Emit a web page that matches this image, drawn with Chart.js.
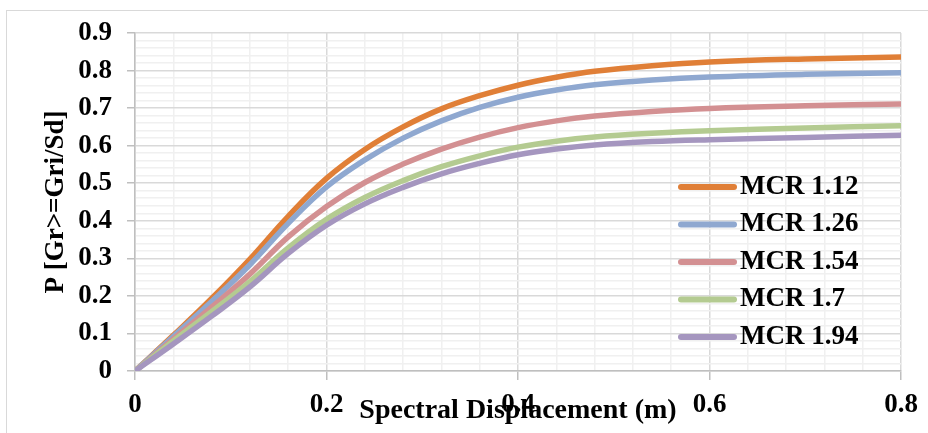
<!DOCTYPE html>
<html>
<head>
<meta charset="utf-8">
<script src="https://cdn.jsdelivr.net/npm/chart.js@4.4.0/dist/chart.umd.min.js"></script>
<style>
  body { margin: 0; background: #fff; }
  #wrap { position: relative; width: 928px; height: 433px; overflow: hidden; background: #fff; }
  #frame { position: absolute; left: 6px; top: 10px; width: 1000px; height: 500px; border: 1px solid #d9d9d9; }
  #chart { position: absolute; left: 0; top: 0; }
</style>
</head>
<body>
<div id="wrap">
  <div id="frame"></div>
  <canvas id="chart" width="928" height="433"></canvas>
</div>
<script>
// Spectral displacement (m)
const sd = [0, 0.04, 0.08, 0.12, 0.16, 0.2, 0.24, 0.28, 0.32, 0.36, 0.4, 0.44, 0.48, 0.54, 0.6, 0.7, 0.8];

// fragility curves
const mcr112 = [0, 0.095, 0.193, 0.298, 0.412, 0.513, 0.590, 0.650, 0.698, 0.733, 0.761, 0.782, 0.798, 0.813, 0.823, 0.831, 0.836];
const mcr126 = [0, 0.092, 0.185, 0.283, 0.393, 0.490, 0.562, 0.620, 0.666, 0.702, 0.729, 0.748, 0.762, 0.775, 0.783, 0.790, 0.794];
const mcr154 = [0, 0.085, 0.170, 0.258, 0.357, 0.438, 0.502, 0.551, 0.591, 0.623, 0.648, 0.666, 0.679, 0.691, 0.699, 0.706, 0.711];
const mcr170 = [0, 0.080, 0.158, 0.238, 0.328, 0.404, 0.462, 0.507, 0.544, 0.573, 0.596, 0.612, 0.623, 0.633, 0.640, 0.647, 0.653];
const mcr194 = [0, 0.072, 0.146, 0.224, 0.313, 0.388, 0.445, 0.489, 0.525, 0.553, 0.576, 0.591, 0.602, 0.611, 0.616, 0.622, 0.628];

const seriesNames = ['MCR 1.12', 'MCR 1.26', 'MCR 1.54', 'MCR 1.7', 'MCR 1.94'];
const seriesColors = ['#E07F37', '#8FA8D0', '#D39092', '#B4CB91', '#A596BF'];
const xTickLabels = ['0', '0.2', '0.4', '0.6', '0.8'];
const yTickLabels = ['0', '0.1', '0.2', '0.3', '0.4', '0.5', '0.6', '0.7', '0.8', '0.9'];

const allSeries = [mcr112, mcr126, mcr154, mcr170, mcr194];
const FONT = "'Liberation Serif', 'Times New Roman', serif";

function majorIndex(v, step) {
  const k = v / step;
  return Math.abs(k - Math.round(k)) < 1e-6 ? Math.round(k) : -1;
}

// legend drawn inside the plot area, like the original
const insideLegend = {
  id: 'insideLegend',
  afterDatasetsDraw(chart) {
    const ctx = chart.ctx;
    ctx.save();
    ctx.font = 'bold 27px ' + FONT;
    ctx.textBaseline = 'middle';
    ctx.textAlign = 'left';
    chart.data.datasets.forEach((ds, i) => {
      const y = 187 + i * 37.5;
      ctx.strokeStyle = ds.borderColor;
      ctx.lineWidth = 6;
      ctx.lineCap = 'round';
      ctx.beginPath();
      ctx.moveTo(681, y);
      ctx.lineTo(734, y);
      ctx.stroke();
      ctx.fillStyle = '#000';
      ctx.fillText(ds.label, 740, y);
    });
    ctx.restore();
  }
};

new Chart(document.getElementById('chart'), {
  type: 'line',
  data: {
    datasets: allSeries.map((vals, i) => ({
      label: seriesNames[i],
      data: sd.map((x, j) => ({ x: x, y: vals[j] })),
      borderColor: seriesColors[i],
      backgroundColor: seriesColors[i],
      borderWidth: 5.5,
      pointRadius: 0,
      tension: 0.4,
      order: 4 - i
    }))
  },
  options: {
    responsive: false,
    animation: false,
    layout: { padding: { left: 0, top: 33, right: 27, bottom: 0 } },
    plugins: {
      legend: { display: false },
      tooltip: { enabled: false }
    },
    scales: {
      x: {
        type: 'linear',
        min: 0,
        max: 0.8,
        afterFit(scale) { scale.height = 62; },
        ticks: {
          stepSize: 0.04,
          autoSkip: false,
          maxRotation: 0,
          padding: 9,
          color: '#000',
          font: { family: FONT, size: 27, weight: 'bold' },
          callback(v) {
            const k = majorIndex(v, 0.2);
            return k >= 0 ? xTickLabels[k] : '';
          }
        },
        grid: {
          tickLength: 9,
          color: (c) => majorIndex(c.tick.value, 0.2) >= 0 ? '#d9d9d9' : '#f0f0f0',
          lineWidth: 1.5,
          tickColor: (c) => majorIndex(c.tick.value, 0.2) >= 0 ? '#bfbfbf' : 'rgba(0,0,0,0)'
        },
        border: { color: '#bfbfbf', width: 1.5 },
        title: {
          display: true,
          text: 'Spectral Displacement (m)',
          color: '#000',
          font: { family: FONT, size: 28, weight: 'bold' },
          padding: { top: 0, bottom: 5 }
        }
      },
      y: {
        min: 0,
        max: 0.9,
        afterFit(scale) { scale.width = 135; },
        ticks: {
          stepSize: 0.02,
          autoSkip: false,
          padding: 15,
          color: '#000',
          font: { family: FONT, size: 27, weight: 'bold' },
          callback(v) {
            const k = majorIndex(v, 0.1);
            return k >= 0 ? yTickLabels[k] : '';
          }
        },
        grid: {
          tickLength: 8,
          color: (c) => majorIndex(c.tick.value, 0.1) >= 0 ? '#d9d9d9' : '#f0f0f0',
          lineWidth: 1.5,
          tickColor: (c) => majorIndex(c.tick.value, 0.1) >= 0 ? '#bfbfbf' : 'rgba(0,0,0,0)'
        },
        border: { color: '#bfbfbf', width: 1.5 },
        title: {
          display: true,
          text: 'P [Gr>=Gri/Sd]',
          color: '#000',
          font: { family: FONT, size: 27, weight: 'bold' },
          padding: { top: 40, bottom: 0 }
        }
      }
    }
  },
  plugins: [insideLegend]
});
</script>
</body>
</html>
